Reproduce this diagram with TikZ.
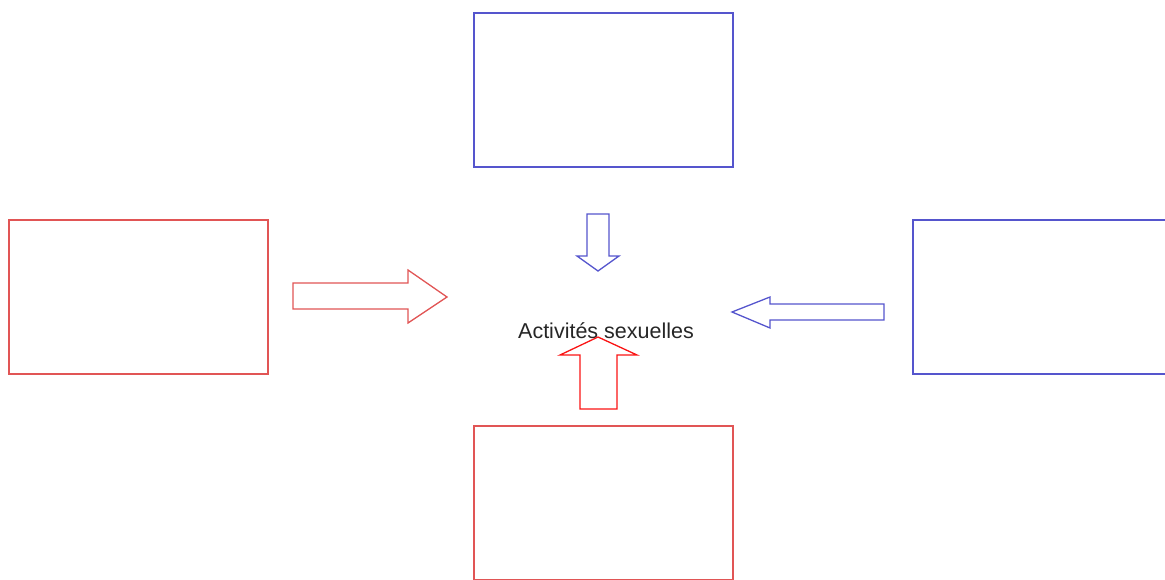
\documentclass[tikz,border=0pt]{standalone}
\usepackage{fontspec}
\setmainfont{Liberation Sans}
\definecolor{boxblue}{RGB}{85,85,205}
\definecolor{boxred}{RGB}{225,85,85}
\definecolor{arrowred}{RGB}{250,20,20}
\tikzset{
  box/.style={draw, line width=1.3pt, inner sep=0pt, minimum width=259pt, minimum height=154pt},
  bluebox/.style={box, boxblue},
  redbox/.style={box, boxred},
  blockarrow/.style={line width=1.3pt, line join=miter}
}
\begin{document}
\begin{tikzpicture}[x=1pt, y=-1pt]
\useasboundingbox (0,0) rectangle (1165,579);
\clip (0,0) rectangle (1165,579);
% the four boxes
\node [bluebox] (top) at (603.5,90) {};
\node [redbox] (left) at (138.5,297) {};
\node [bluebox] (right) at (1042.5,297) {};
\node [redbox] (bottom) at (603.5,503) {};
% the centre
\node [anchor=base, text=black!85, font=\fontsize{21.5}{24}\selectfont] (centre) at (606,338) {Activités sexuelles};
% block arrows
\draw [blockarrow, boxblue] (587,214) -- (609,214) -- (609,256) -- (619,256) -- (598,271) -- (577,256) -- (587,256) -- cycle;
\draw [blockarrow, boxred] (293,283) -- (408,283) -- (408,270) -- (447,297) -- (408,323) -- (408,309) -- (293,309) -- cycle;
\draw [blockarrow, boxblue] (884,304) -- (770,304) -- (770,297) -- (732,312) -- (770,328) -- (770,320) -- (884,320) -- cycle;
\draw [blockarrow, arrowred] (580,409) -- (580,355) -- (560,355) -- (598,337) -- (637,355) -- (617,355) -- (617,409) -- cycle;
\end{tikzpicture}
\end{document}
